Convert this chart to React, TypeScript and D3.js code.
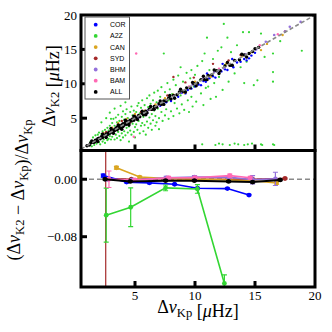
import * as d3 from "d3";

// series colours, legend order
const NAMES = ["COR", "A2Z", "CAN", "SYD", "BHM", "BAM", "ALL"];
const COLORS: Record<string, string> = {
  COR: "#0000ff",
  A2Z: "#33d633",
  CAN: "#daa520",
  SYD: "#a52a2a",
  BHM: "#9370db",
  BAM: "#ff69b4",
  ALL: "#000000",
};

// top panel: [dnu Kp, dnu K2]
const a2zPts = [
  [1.3, 1.6], [1.4, 0.9], [1.5, 2.2], [1.6, 1.1], [1.7, 2.5], [1.8, 1.3], [1.9, 2.6], [2.0, 1.5], [2.0, 2.9], [2.1, 1.2],
  [2.2, 2.7], [2.3, 1.6], [2.3, 3.1], [2.4, 1.9], [2.5, 3.3], [2.5, 1.4], [2.6, 2.2], [2.7, 3.6], [2.7, 1.8], [2.8, 3.2],
  [2.8, 2.0], [2.9, 3.9], [2.9, 2.4], [3.0, 1.9], [3.0, 3.4], [2.2, 4.4], [2.6, 5.0], [2.9, 5.8], [3.3, 6.4], [3.0, 4.9],
  [3.8, 6.8], [4.2, 7.3], [3.1, 4.3], [3.1, 2.3], [3.2, 2.8], [3.2, 4.9], [3.3, 1.9], [3.3, 3.9], [3.4, 2.6], [3.4, 5.1],
  [3.5, 2.1], [3.5, 4.4], [3.6, 3.0], [3.6, 5.5], [3.7, 2.4], [3.7, 4.6], [3.8, 1.8], [3.8, 3.4], [3.9, 5.2], [3.9, 2.8],
  [4.0, 6.0], [4.0, 2.2], [4.1, 4.8], [4.1, 3.1], [4.2, 5.6], [4.2, 2.5], [4.3, 3.6], [4.3, 6.3], [4.4, 2.9], [4.4, 5.0],
  [4.5, 1.6], [4.5, 3.8], [4.6, 5.9], [4.6, 3.2], [4.7, 6.7], [4.7, 2.6], [4.8, 4.2], [4.8, 5.4], [4.9, 3.0], [4.9, 6.1],
  [5.0, 3.7], [5.0, 2.2], [5.1, 5.9], [5.1, 4.1], [5.2, 6.8], [5.2, 3.3], [5.3, 4.6], [5.3, 7.2], [5.4, 2.8], [5.4, 5.7],
  [5.5, 3.9], [5.5, 6.5], [5.6, 4.3], [5.6, 7.6], [5.7, 3.1], [5.7, 5.2], [5.8, 6.9], [5.8, 4.0], [5.9, 2.6], [5.9, 5.9],
  [6.0, 4.5], [6.0, 7.9], [6.1, 3.6], [6.1, 6.6], [6.2, 5.1], [6.2, 8.3], [6.3, 4.2], [6.3, 7.1], [6.4, 3.3], [6.4, 5.6],
  [6.5, 7.6], [6.5, 4.7], [6.6, 6.1], [6.6, 8.7], [6.7, 3.9], [6.7, 5.3], [6.8, 7.3], [6.8, 4.4], [6.9, 6.4], [6.9, 9.0],
  [7.0, 5.0], [7.0, 3.4], [7.1, 8.1], [7.2, 5.9], [7.2, 9.5], [7.3, 4.6], [7.4, 7.0], [7.4, 14.4], [7.5, 5.4], [7.5, 8.8],
  [7.6, 6.3], [7.7, 10.1], [7.8, 4.9], [7.8, 7.6], [7.9, 9.2], [8.0, 6.0], [8.1, 8.5], [8.2, 5.3], [8.2, 10.6], [8.3, 7.2],
  [8.4, 9.8], [8.5, 6.4], [8.6, 11.2], [8.7, 5.7], [8.8, 8.3], [8.8, 12.4], [8.9, 7.0], [9.0, 10.3], [9.1, 6.2], [9.2, 9.0],
  [9.3, 11.6], [9.4, 7.6], [9.5, 5.9], [9.6, 10.8], [9.7, 12.0], [9.7, 8.1], [9.8, 6.7], [9.9, 9.6], [10.0, 11.3], [10.1, 7.4],
  [10.2, 12.6], [10.4, 10.5], [10.5, 8.6], [10.6, 13.3], [10.7, 6.9], [10.8, 14.4], [10.9, 9.4], [11.0, 16.7], [11.1, 9.6], [11.2, 12.0],
  [11.3, 7.8], [11.5, 13.6], [11.6, 10.1], [11.75, 8.1], [11.9, 14.8], [12.0, 11.0], [12.2, 15.3], [12.3, 9.1], [12.4, 18.7], [12.5, 12.7],
  [12.7, 16.7], [12.8, 10.3], [13.0, 14.6], [13.3, 11.5], [13.5, 15.6], [13.8, 12.4], [14.0, 17.5], [14.1, 10.1], [14.3, 13.2], [14.5, 17.5],
  [14.9, 9.8], [15.2, 10.5], [15.5, 17.3], [15.8, 13.9], [16.5, 11.7], [16.5, 10.3], [16.5, 14.4], [17.1, 16.2], [18.9, 14.8],
  [10.6, 1.2], [11.7, 1.1], [12.0, 1.3], [12.3, 1.2], [12.9, 1.1], [13.3, 1.3], [13.6, 1.2], [14.1, 1.1], [14.4, 1.2], [14.75, 1.3],
  [15.5, 1.2], [15.6, 1.1], [16.5, 1.2], [16.6, 1.1],
];

const corPts = [
  [2.2, 2.3], [2.8, 2.7], [3.4, 3.5], [4.1, 4.0], [5.2, 5.0], [6.0, 5.7], [6.5, 6.3], [7.1, 6.8], [7.6, 7.3], [8.0, 7.5],
  [8.3, 8.0], [8.6, 8.1], [8.9, 8.7], [9.2, 8.6], [9.4, 9.1], [9.7, 9.3], [10.0, 9.6], [10.3, 9.9], [10.5, 9.8], [10.7, 10.4],
  [10.9, 10.3], [11.2, 10.8], [11.5, 11.1], [11.7, 10.9], [12.0, 11.6], [12.2, 11.8], [12.5, 12.1], [12.7, 12.0], [13.0, 12.6], [13.2, 12.4],
  [13.5, 13.1], [13.8, 13.2], [14.1, 13.6], [14.3, 13.4], [14.5, 13.7], [14.7, 14.1], [15.0, 14.5], [12.3, 12.9], [13.1, 13.6], [11.0, 11.5],
];

const canPts = [
  [2.4, 2.8], [3.1, 3.6], [3.6, 4.3], [4.3, 4.9], [5.0, 5.6], [5.8, 6.1], [6.7, 7.0], [7.5, 7.9], [8.2, 8.4], [9.1, 8.7],
  [10.0, 10.3], [11.3, 11.0], [12.6, 12.9], [13.9, 14.0], [14.6, 14.5], [15.5, 14.9], [16.0, 15.8], [17.3, 17.1],
];

const sydPts = [
  [2.0, 2.1], [2.6, 3.0], [3.3, 3.2], [3.9, 4.6], [4.6, 4.4], [5.5, 5.9], [6.4, 6.2], [7.7, 8.3], [8.2, 11.0], [9.2, 10.2],
  [9.9, 10.9], [11.5, 12.9], [12.8, 13.4], [13.8, 14.2], [17.5, 17.6],
];

const bhmPts = [
  [1.8, 1.9], [2.5, 2.6], [3.2, 3.1], [3.8, 3.9], [4.5, 4.6], [5.2, 5.1], [6.1, 6.2], [7.0, 6.9], [7.9, 8.1], [8.8, 8.7],
  [9.8, 9.9], [10.7, 10.8], [11.6, 11.7], [12.4, 12.3], [13.3, 13.4], [14.2, 14.3], [15.1, 15.0], [15.9, 16.1], [16.6, 17.1], [17.5, 17.6],
  [17.9, 18.3], [18.8, 19.0],
];

const bamPts = [
  [5.1, 14.4], [4.9, 2.3], [2.9, 3.0], [6.3, 6.4], [9.5, 9.6], [12.0, 12.2], [15.4, 15.6], [16.9, 17.2],
];

const allPts = [
  [1.0, 1.0], [1.2, 1.1], [1.3, 1.4], [1.5, 1.5], [1.6, 1.5], [1.7, 1.8], [1.8, 1.7], [1.9, 2.0], [2.0, 2.1], [2.1, 2.0],
  [2.2, 2.3], [2.3, 2.2], [2.4, 2.5], [2.5, 2.4], [2.6, 2.7], [2.7, 2.6], [2.8, 2.9], [2.9, 2.8], [3.0, 3.1], [3.1, 3.0],
  [3.2, 3.3], [3.3, 3.2], [3.4, 3.5], [3.5, 3.3], [3.5, 3.7], [3.6, 3.5], [3.7, 3.9], [3.8, 3.6], [3.9, 4.0], [4.0, 3.8],
  [4.0, 4.2], [4.1, 4.0], [4.2, 4.4], [4.3, 4.1], [4.4, 4.5], [4.5, 4.3], [4.6, 4.7], [4.7, 4.6], [4.8, 4.9], [4.9, 4.7],
  [5.0, 5.2], [5.1, 5.0], [5.3, 5.4], [5.4, 5.2], [5.6, 5.7], [5.7, 5.5], [5.9, 6.0], [6.0, 5.8], [6.2, 6.3], [6.4, 6.3],
  [6.6, 6.7], [6.8, 6.6], [7.0, 7.1], [7.2, 7.0], [7.4, 7.5], [7.6, 7.5], [7.8, 7.9], [8.0, 7.8], [8.2, 8.3], [8.5, 8.4],
  [8.7, 8.8], [9.0, 8.9], [9.3, 9.4], [9.6, 9.4], [9.9, 10.0], [10.2, 10.1], [10.5, 10.6], [10.8, 10.6], [11.1, 11.2], [11.4, 11.3],
  [11.8, 11.9], [12.1, 11.9], [12.5, 12.6], [12.9, 12.7], [13.3, 13.4], [13.7, 13.5], [14.1, 14.2], [14.5, 14.4], [15.0, 15.1],
  [1.4, 1.7], [1.9, 1.6], [2.3, 2.7], [2.6, 2.2], [3.0, 3.5], [3.2, 2.8], [3.6, 4.0], [3.9, 3.4], [4.2, 4.7], [4.5, 4.0],
  [4.9, 5.3], [5.2, 4.8], [5.6, 6.0], [5.9, 5.5], [6.3, 6.7], [6.6, 6.3], [7.1, 7.5], [7.4, 7.0], [7.9, 8.3], [8.3, 7.9],
  [8.8, 9.2], [9.2, 8.8], [9.8, 10.2], [10.1, 9.7], [10.7, 11.1], [11.0, 10.6], [11.6, 12.0], [12.0, 11.5], [12.7, 13.1], [13.1, 12.7],
  [13.9, 14.3], [14.3, 13.9], [14.8, 14.7], [15.3, 15.3],
];

// bottom panel bins: [dnu Kp, relative difference, error]
const corBins = [[2.35, 0.005, 0.002], [4.3, -0.004, 0.001], [6.2, -0.005, 0.001], [8.3, -0.007, 0.001], [10.2, -0.0125, 0.001], [12.7, -0.013, 0.001], [14.5, -0.022, 0.001]];
const a2zBins = [[2.6, -0.05, 0.0375], [4.64, -0.039, 0.027], [7.55, -0.012, 0.004], [10.2, -0.0135, 0.006], [12.45, -0.145, 0.012]];
const canBins = [[3.45, 0.016, 0.002], [5.4, 0.003, 0.001], [7.7, 0.001, 0.001], [10.0, 0.0, 0.001], [12.8, -0.001, 0.001], [14.8, -0.002, 0.001], [16.8, -0.005, 0.002]];
const sydBins = [[2.56, 0.001, 0.5], [4.7, 0.0, 0.001], [7.6, 0.001, 0.001], [10.0, 0.0, 0.001], [12.8, 0.0, 0.001], [14.8, 0.0, 0.001], [17.5, 0.001, 0.001]];
const bhmBins = [[2.7, 0.0, 0.002], [4.8, -0.001, 0.002], [7.6, 0.002, 0.002], [9.95, 0.003, 0.002], [12.8, 0.003, 0.002], [14.8, -0.0007, 0.0058], [16.7, 0.0005, 0.0092]];
const bamBins = [[2.83, 0.0, 0.0115], [5.0, -0.001, 0.002], [7.8, 0.002, 0.002], [10.0, 0.002, 0.002], [12.9, 0.005, 0.002], [14.6, 0.002, 0.002]];
const allBins = [[2.5, 0.0, 0.001], [4.6, -0.003, 0.001], [7.55, -0.002, 0.001], [9.95, -0.002, 0.001], [12.8, -0.003, 0.001], [14.8, -0.004, 0.001], [17.1, -0.001, 0.001]];

const xTicks = [5, 10, 15, 20];
const yTopTicks = [5, 10, 15, 20];
const yBotTicks = [0, -0.08];

const scatterSets: [string, number[][], number][] = [
  ["A2Z", a2zPts, 1.1],
  ["COR", corPts, 1.2],
  ["CAN", canPts, 1.2],
  ["SYD", sydPts, 1.2],
  ["BHM", bhmPts, 1.3],
  ["BAM", bamPts, 1.2],
  ["ALL", allPts, 1.7],
];
const binSets: [string, number[][]][] = [
  ["SYD", sydBins],
  ["COR", corBins],
  ["A2Z", a2zBins],
  ["CAN", canBins],
  ["BHM", bhmBins],
  ["BAM", bamBins],
  ["ALL", allBins],
];

const serif = "'Liberation Serif', 'DejaVu Serif', serif";
const sans = "'Liberation Sans', Arial, sans-serif";

function DNu({ sub }: { sub: string }) {
  return (
    <>
      <tspan>Δ</tspan>
      <tspan fontStyle="italic">ν</tspan>
      <tspan fontSize="0.7em" dy="4">{sub}</tspan>
      <tspan dy="-4"></tspan>
    </>
  );
}

export default function App() {
  const left = 81, right = 315, top1 = 15, mid = 150.5, bot2 = 287;
  const x = d3.scaleLinear().domain([0.5, 20]).range([left, right]);
  const yTop = d3.scaleLinear().domain([0.3, 20]).range([mid, top1]);
  const yBot = d3.scaleLinear().domain([-0.15, 0.04]).range([bot2, mid]);
  const line = d3.line<number[]>().x((d) => x(d[0])).y((d) => yBot(d[1]));

  return (
    <div style={{ position: "absolute", left: 0, top: 0 }}>
      <svg width={332} height={332} style={{ display: "block", background: "#fff" }}>
        <defs>
          <clipPath id="cTop"><rect x={left} y={top1} width={right - left} height={mid - top1} /></clipPath>
          <clipPath id="cBot"><rect x={left} y={mid} width={right - left} height={bot2 - mid} /></clipPath>
        </defs>

        {/* top panel scatter */}
        <g clipPath="url(#cTop)">
          {scatterSets.map(([name, pts, r]) => (
            <g key={name} fill={COLORS[name]}>
              {pts.map((d, i) => (
                <circle key={i} cx={x(d[0])} cy={yTop(d[1])} r={r} />
              ))}
            </g>
          ))}
          <line x1={x(0.5)} y1={yTop(0.5)} x2={x(20)} y2={yTop(20)} stroke="#8a8a8a" strokeWidth={1.6} strokeDasharray="4,2.5" />
        </g>

        {/* bottom panel binned differences */}
        <g clipPath="url(#cBot)">
          <line x1={left} y1={yBot(0)} x2={right} y2={yBot(0)} stroke="#8a8a8a" strokeWidth={1.6} strokeDasharray="5,3" />
          {binSets.map(([name, bins]) => (
            <g key={name} stroke={COLORS[name]} fill={COLORS[name]}>
              <path d={line(bins) || ""} fill="none" strokeWidth={name === "ALL" ? 2 : 1.6} />
              {bins.map((d, i) => (
                <g key={i} strokeWidth={1.2}>
                  <line x1={x(d[0])} x2={x(d[0])} y1={yBot(d[1] - d[2])} y2={yBot(d[1] + d[2])} />
                  <line x1={x(d[0]) - 2.5} x2={x(d[0]) + 2.5} y1={yBot(d[1] - d[2])} y2={yBot(d[1] - d[2])} />
                  <line x1={x(d[0]) - 2.5} x2={x(d[0]) + 2.5} y1={yBot(d[1] + d[2])} y2={yBot(d[1] + d[2])} />
                  <circle cx={x(d[0])} cy={yBot(d[1])} r={2.4} stroke="none" />
                </g>
              ))}
            </g>
          ))}
        </g>

        {/* frames */}
        <rect x={left} y={top1} width={right - left} height={mid - top1} fill="none" stroke="#000" strokeWidth={3} />
        <rect x={left} y={mid} width={right - left} height={bot2 - mid} fill="none" stroke="#000" strokeWidth={3} />

        {/* ticks */}
        <g stroke="#000" strokeWidth={3}>
          {xTicks.filter((t) => t < 20).map((t) => (
            <g key={t}>
              <line x1={x(t)} x2={x(t)} y1={mid} y2={mid - 6} />
              <line x1={x(t)} x2={x(t)} y1={bot2} y2={bot2 - 6} />
            </g>
          ))}
          {yTopTicks.filter((t) => t < 20).map((t) => (
            <line key={t} x1={left} x2={left + 6} y1={yTop(t)} y2={yTop(t)} />
          ))}
          {yBotTicks.map((t) => (
            <line key={t} x1={left} x2={left + 6} y1={yBot(t)} y2={yBot(t)} />
          ))}
        </g>

        {/* tick labels */}
        <g fontFamily={serif} fontSize={13} fill="#000">
          {yTopTicks.map((t) => (
            <text key={t} x={77} y={yTop(t)} dy="0.35em" textAnchor="end">{t}</text>
          ))}
          {yBotTicks.map((t) => (
            <text key={t} x={77} y={yBot(t)} dy="0.35em" textAnchor="end">{d3.format(".2f")(t).replace("-", "−")}</text>
          ))}
          {xTicks.map((t) => (
            <text key={t} x={x(t)} y={299.5} textAnchor="middle">{t}</text>
          ))}
        </g>

        {/* axis labels */}
        <g fontFamily={serif} fontSize={18} fill="#000">
          <text transform="translate(55,86) rotate(-90)" textAnchor="middle">
            <DNu sub="K2" /> [<tspan fontStyle="italic">μ</tspan>Hz]
          </text>
          <text transform="translate(20,190) rotate(-90)" textAnchor="middle">
            (<DNu sub="K2" /> − <DNu sub="Kp" />)/<DNu sub="Kp" />
          </text>
          <text x={198} y={313} textAnchor="middle">
            <DNu sub="Kp" /> [<tspan fontStyle="italic">μ</tspan>Hz]
          </text>
        </g>

        {/* legend */}
        <g>
          <rect x={85} y={17} width={44.5} height={82} fill="#fff" stroke="#555" strokeWidth={1} />
          {NAMES.map((name, i) => (
            <g key={name}>
              <circle cx={95.7} cy={24.7 + i * 11.2} r={1.9} fill={COLORS[name]} />
              <text x={110} y={24.7 + i * 11.2} dy="0.35em" fontFamily={sans} fontSize={7} fill="#000">{name}</text>
            </g>
          ))}
        </g>
      </svg>
    </div>
  );
}
